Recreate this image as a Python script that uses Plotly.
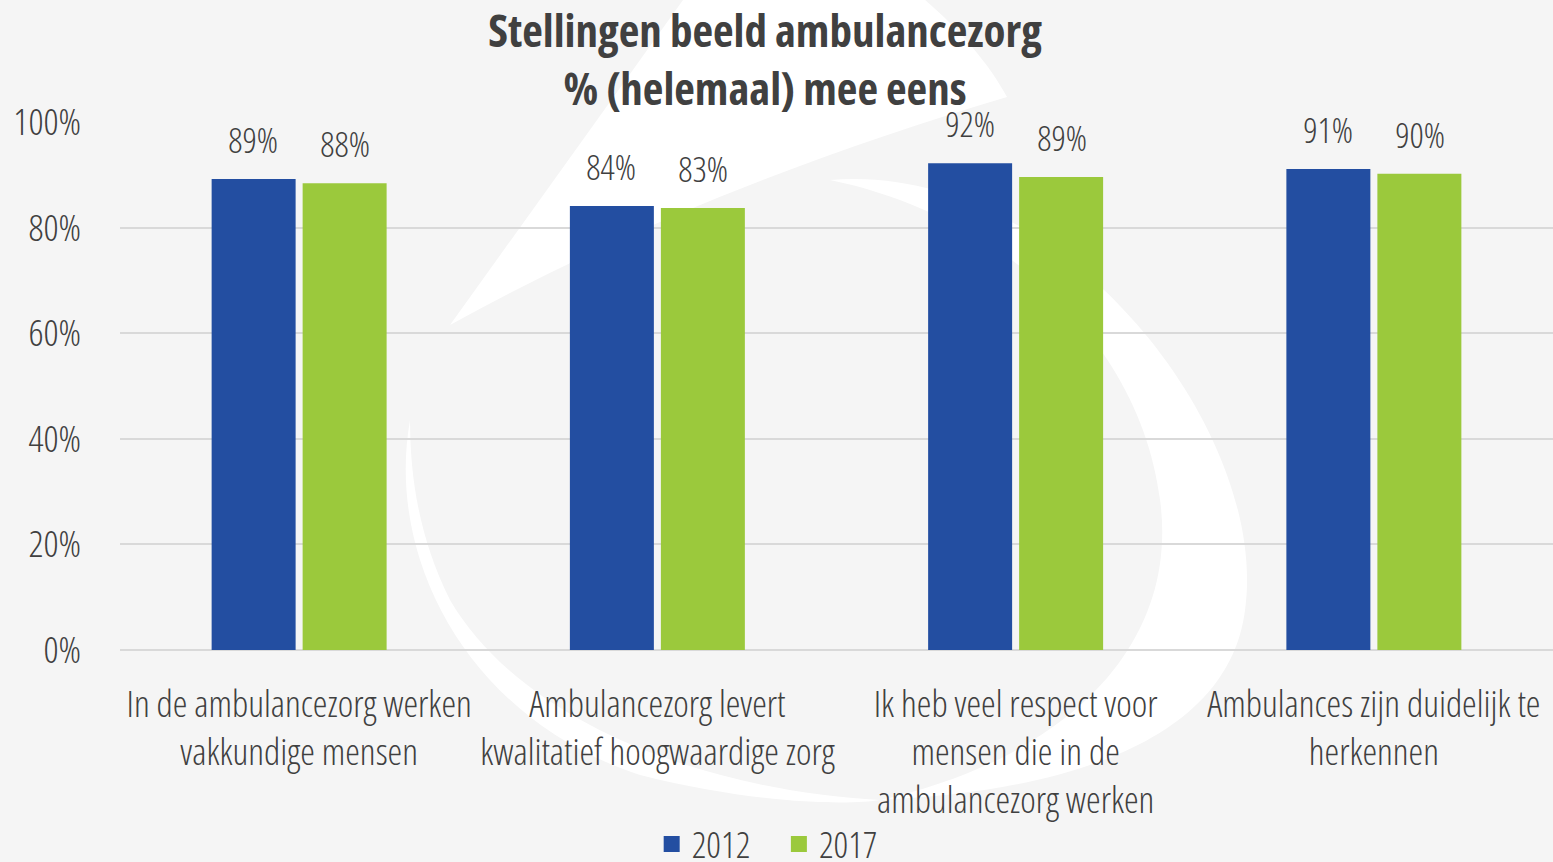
import plotly.graph_objects as go

categories = [
    "In de ambulancezorg werken<br>vakkundige mensen",
    "Ambulancezorg levert<br>kwalitatief hoogwaardige zorg",
    "Ik heb veel respect voor<br>mensen die in de<br>ambulancezorg werken",
    "Ambulances zijn duidelijk te<br>herkennen",
]
series_names = ["2012", "2017"]
values_2012 = [89.2, 84.1, 92.2, 91.1]
values_2017 = [88.4, 83.7, 89.6, 90.2]
labels_2012 = ["89%", "84%", "92%", "91%"]
labels_2017 = ["88%", "83%", "89%", "90%"]
y_ticks = [0, 20, 40, 60, 80, 100]
y_ticklabels = ["0%", "20%", "40%", "60%", "80%", "100%"]

FONT = "Open Sans"
TXT = "#404040"
BLUE = "#234ea1"
GREEN = "#9bc93c"
W, H = 1553, 862
ML, MR, MT, MB = 120, 0, 122, 212

fig = go.Figure()
for name, vals, col in [(series_names[0], values_2012, BLUE), (series_names[1], values_2017, GREEN)]:
    fig.add_trace(go.Bar(name=name, x=categories, y=vals, marker_color=col,
                         marker_line_width=0, showlegend=False))
# legend entries with square swatches
for name, col in [(series_names[0], BLUE), (series_names[1], GREEN)]:
    fig.add_trace(go.Scatter(name=name, x=[None], y=[None], mode="markers",
                             marker=dict(symbol="square", size=22, color=col)))

annos = []
for vals, labs, shift in [(values_2012, labels_2012, -46), (values_2017, labels_2017, 46)]:
    for c, v, t in zip(categories, vals, labs):
        annos.append(dict(x=c, y=v, text=t, showarrow=False, xshift=shift, yshift=14,
                          yanchor="bottom", xanchor="center",
                          font=dict(size=35, color=TXT, family=FONT, weight=300)))

# faint background watermark (decorative), described in pixel space of the canvas
PW, PH = W - ML - MR, H - MT - MB
def px(x, y):
    return f"{(x - ML) / PW:.4f},{(H - MB - y) / PH:.4f}"

def path(cmds):
    out = []
    for c in cmds:
        if isinstance(c, str):
            out.append(c)
        else:
            out.append(px(*c))
    return " ".join(out)

wm_paths = [
    path(["M", (683, 0), "L", (925, 0), "C", (960, 30), (990, 65), (1007, 97),
          "C", (830, 150), (640, 220), (450, 325), "Z"]),
    path(["M", (830, 180), "C", (1060, 160), (1270, 430), (1245, 610),
          "C", (1230, 730), (1090, 790), (880, 800),
          "C", (1060, 760), (1180, 650), (1160, 500),
          "C", (1140, 340), (1000, 215), (830, 180), "Z"]),
    path(["M", (410, 420), "C", (385, 560), (470, 720), (640, 775),
          "C", (760, 805), (850, 805), (880, 800),
          "C", (700, 790), (520, 720), (450, 600),
          "C", (420, 540), (410, 480), (410, 420), "Z"]),
]
shapes = [dict(type="path", path=p, xref="paper", yref="paper", fillcolor="#ffffff",
               line=dict(width=0), layer="below") for p in wm_paths]

fig.update_layout(
    width=W, height=H,
    paper_bgcolor="#f5f5f5", plot_bgcolor="rgba(0,0,0,0)",
    font=dict(family=FONT, color=TXT, size=35, weight=300),
    title=dict(text="<b>Stellingen beeld ambulancezorg<br>% (helemaal) mee eens</b>",
               x=0.4926, xanchor="center", y=0.946, yanchor="top",
               font=dict(size=45, color=TXT, family=FONT, weight=700)),
    barmode="group", bargap=0.492, bargroupgap=0.077,
    margin=dict(l=ML, r=MR, t=MT, b=MB, autoexpand=False),
    legend=dict(orientation="h", x=0.46, xanchor="center", y=-0.311, yanchor="top",
                font=dict(size=36, color=TXT, family=FONT, weight=300),
                bgcolor="rgba(0,0,0,0)", itemwidth=30),
    annotations=annos,
    shapes=shapes,
)
fig.update_yaxes(range=[0, 100], tickvals=y_ticks, ticktext=y_ticklabels,
                 gridcolor="#d9d9d9", gridwidth=2, zeroline=True, zerolinecolor="#d9d9d9",
                 zerolinewidth=2, ticks="", ticklabelstandoff=38, automargin=False,
                 tickfont=dict(size=37, color=TXT, family=FONT, weight=300))
fig.update_xaxes(tickfont=dict(size=37, color=TXT, family=FONT, weight=300), ticks="",
                 showline=False, tickangle=0, automargin=False, ticklabelstandoff=29)

post = """
document.body.style.margin='0';
document.body.style.overflow='hidden';
var st=document.createElement('style');
st.textContent='.js-plotly-plot text{font-stretch:75% !important;}';
document.head.appendChild(st);
"""
fig.write_html("out.html", post_script=post, config={"displayModeBar": False})
